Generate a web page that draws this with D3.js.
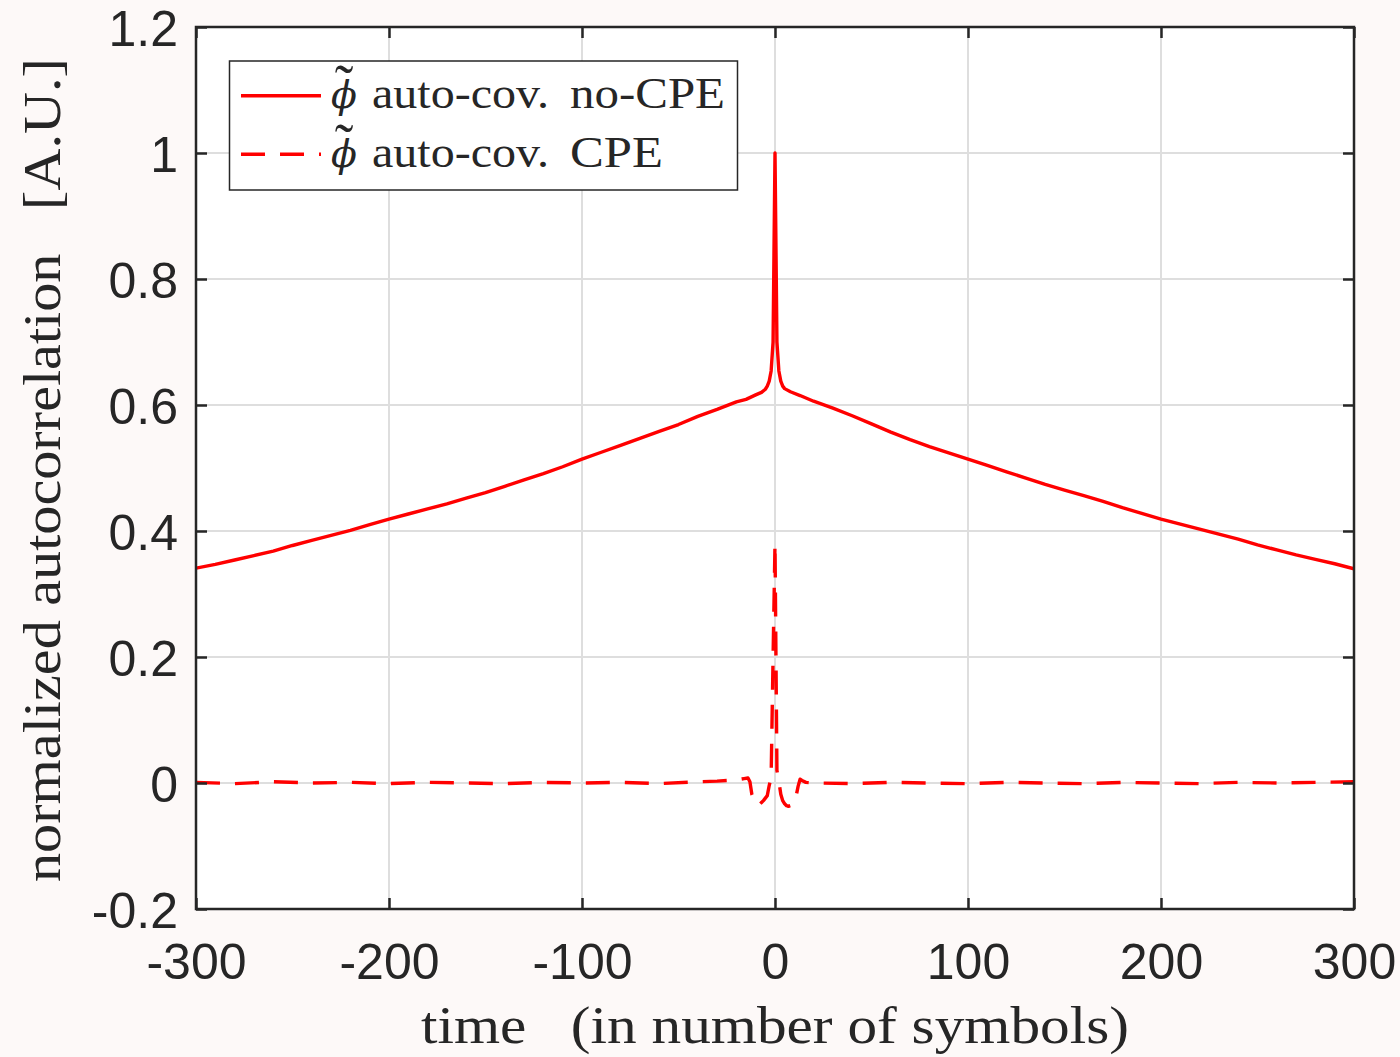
<!DOCTYPE html>
<html>
<head>
<meta charset="utf-8">
<script src="https://cdn.jsdelivr.net/npm/d3@7"></script>
<style>
  body { margin: 0; background: #fdf9f8; }
  svg { display: block; }
  .tick text { font-family: "Liberation Sans", Arial, sans-serif; font-size: 50px; fill: #262626; }
  .serif { font-family: "Liberation Serif", "Times New Roman", serif; fill: #262626; }
</style>
</head>
<body>
<svg width="1400" height="1057"></svg>
<script>
// lag (symbols) and normalized autocorrelation
var noCpeLag = [-300, -290, -280, -270, -260, -250, -240, -230, -220, -210, -200, -190, -180, -170, -160,
  -150, -140, -130, -120, -110, -100, -90, -80, -70, -60, -50, -40, -30, -20, -15, -10, -7, -5, -4, -3,
  -2, -1, 0, 1, 2, 3, 4, 5, 8, 13, 20, 30, 40, 50, 60, 70, 80, 90, 100, 110, 120, 130, 140, 150, 160,
  170, 180, 190, 200, 210, 220, 230, 240, 250, 260, 270, 280, 290, 300];
var noCpeVal = [0.341, 0.347, 0.354, 0.361, 0.368, 0.377, 0.385, 0.393, 0.401, 0.410, 0.419, 0.427, 0.435,
  0.443, 0.452, 0.461, 0.471, 0.481, 0.491, 0.502, 0.514, 0.525, 0.536, 0.547, 0.558, 0.569, 0.582, 0.593,
  0.605, 0.609, 0.616, 0.620, 0.625, 0.630, 0.638, 0.654, 0.700, 1.0, 0.700, 0.654, 0.638, 0.630, 0.626,
  0.621, 0.615, 0.606, 0.595, 0.583, 0.570, 0.557, 0.545, 0.534, 0.524, 0.514, 0.504, 0.494, 0.484,
  0.474, 0.465, 0.456, 0.447, 0.437, 0.428, 0.419, 0.411, 0.403, 0.395, 0.387, 0.378, 0.370, 0.362,
  0.355, 0.348, 0.340];

var cpeLag = [-300, -280, -260, -240, -220, -200, -180, -160, -140, -120, -100, -80, -60, -40, -30, -20,
  -16, -14, -13, -12, -11, -10, -9, -8, -7, -6, -5, -4, -3, -2, -1, 0, 1, 2, 3, 4, 5, 6, 7, 8, 9, 10,
  11, 12, 13, 14, 16, 20, 40, 60, 80, 100, 120, 140, 160, 180, 200, 220, 240, 260, 280, 300];
var cpeVal = [0.001, -0.001, 0.002, 0.000, 0.001, -0.001, 0.001, 0.000, -0.001, 0.001, 0.000, 0.001,
  -0.001, 0.002, 0.003, 0.005, 0.007, 0.008, 0.002, -0.018, -0.028, -0.032, -0.035, -0.034, -0.031,
  -0.028, -0.024, -0.020, -0.004, 0.010, 0.200, 0.380, 0.020, 0.003, -0.018, -0.028, -0.033, -0.036,
  -0.037, -0.036, -0.035, -0.032, -0.020, -0.005, 0.006, 0.004, 0.001, 0.000, -0.001, 0.001, 0.000,
  -0.001, 0.001, 0.000, -0.001, 0.001, 0.000, -0.001, 0.001, 0.000, 0.001, 0.002];

var xTicks = [-300, -200, -100, 0, 100, 200, 300];
var xTickLabels = ['-300', '-200', '-100', '0', '100', '200', '300'];
var yTicks = [-0.2, 0, 0.2, 0.4, 0.6, 0.8, 1, 1.2];
var yTickLabels = ['-0.2', '0', '0.2', '0.4', '0.6', '0.8', '1', '1.2'];

var svg = d3.select('svg');
var margin = {top: 27, right: 46, bottom: 148, left: 196};
var width = svg.attr('width') - margin.left - margin.right;
var height = svg.attr('height') - margin.top - margin.bottom;
var axisColor = '#262626';

var x = d3.scaleLinear().domain([-300, 300]).range([0, width]);
var y = d3.scaleLinear().domain([-0.2, 1.2]).range([height, 0]);

var g = svg
  .append('g')
  .attr('transform', 'translate(' + margin.left + ',' + margin.top + ')');

g.append('rect')
  .attr('width', width)
  .attr('height', height)
  .attr('fill', '#fff');

// grid
g.append('g')
  .selectAll('line')
  .data(xTicks.slice(1, -1))
  .enter()
  .append('line')
  .attr('x1', d => x(d)).attr('x2', d => x(d))
  .attr('y1', 0).attr('y2', height)
  .attr('stroke', '#dedede').attr('stroke-width', 2);
g.append('g')
  .selectAll('line')
  .data(yTicks.slice(1, -1))
  .enter()
  .append('line')
  .attr('y1', d => y(d)).attr('y2', d => y(d))
  .attr('x1', 0).attr('x2', width)
  .attr('stroke', '#dedede').attr('stroke-width', 2);

g.append('defs')
  .append('clipPath')
  .attr('id', 'clip')
  .append('rect')
  .attr('width', width)
  .attr('height', height);

var line = d3
  .line()
  .x(function(d) { return x(d[0]); })
  .y(function(d) { return y(d[1]); });

var plot = g.append('g').attr('clip-path', 'url(#clip)');
plot.append('path')
  .datum(d3.zip(noCpeLag, noCpeVal))
  .attr('d', line)
  .attr('fill', 'none')
  .attr('stroke', '#ff0000')
  .attr('stroke-width', 3.4)
  .attr('stroke-linejoin', 'round');
plot.append('path')
  .datum(d3.zip(cpeLag, cpeVal))
  .attr('d', line)
  .attr('fill', 'none')
  .attr('stroke', '#ff0000')
  .attr('stroke-width', 3.4)
  .attr('stroke-dasharray', '24,15')
  .attr('stroke-linejoin', 'round');

// axes, ticks pointing inwards on all four sides
function styleAxis(sel) {
  sel.select('.domain').remove();
  sel.selectAll('.tick line').attr('stroke', axisColor).attr('stroke-width', 2.5);
}
g.append('g')
  .attr('transform', 'translate(0,' + height + ')')
  .call(d3.axisBottom(x).tickValues(xTicks).tickSizeInner(-11).tickSizeOuter(0).tickPadding(34)
    .tickFormat((d, i) => xTickLabels[i]))
  .call(styleAxis);
g.append('g')
  .call(d3.axisTop(x).tickValues(xTicks).tickSizeInner(-11).tickSizeOuter(0).tickFormat(''))
  .call(styleAxis);
g.append('g')
  .call(d3.axisLeft(y).tickValues(yTicks).tickSizeInner(-11).tickSizeOuter(0).tickPadding(18)
    .tickFormat((d, i) => yTickLabels[i]))
  .call(styleAxis)
  .selectAll('.tick text').attr('dy', '0.36em');
g.append('g')
  .attr('transform', 'translate(' + width + ',0)')
  .call(d3.axisRight(y).tickValues(yTicks).tickSizeInner(-11).tickSizeOuter(0).tickFormat(''))
  .call(styleAxis);
g.selectAll('.tick text').attr('font-family', null).attr('font-size', null).attr('fill', null);

g.append('rect')
  .attr('width', width)
  .attr('height', height)
  .attr('fill', 'none')
  .attr('stroke', axisColor)
  .attr('stroke-width', 2.5);

// axis labels
svg.append('text')
  .attr('class', 'serif')
  .attr('x', margin.left + width / 2)
  .attr('y', 1043)
  .attr('text-anchor', 'middle')
  .attr('font-size', 53)
  .attr('textLength', 708)
  .attr('lengthAdjust', 'spacingAndGlyphs')
  .style('white-space', 'pre')
  .text('time   (in number of symbols)');
svg.append('text')
  .attr('class', 'serif')
  .attr('transform', 'translate(60,470) rotate(-90)')
  .attr('text-anchor', 'middle')
  .attr('font-size', 53)
  .attr('textLength', 824)
  .attr('lengthAdjust', 'spacingAndGlyphs')
  .style('white-space', 'pre')
  .text('normalized autocorrelation   [A.U.]');

// legend
var legend = svg.append('g');
legend.append('rect')
  .attr('x', 229.5).attr('y', 61)
  .attr('width', 508).attr('height', 129)
  .attr('fill', '#fff')
  .attr('stroke', axisColor)
  .attr('stroke-width', 1.5);
var entries = [
  {label: 'no-CPE', w: 155, dash: null, y: 95.7},
  {label: 'CPE', w: 93, dash: '24,15', y: 154.3}
];
entries.forEach(function(e) {
  legend.append('line')
    .attr('x1', 241).attr('x2', 321)
    .attr('y1', e.y).attr('y2', e.y)
    .attr('stroke', '#ff0000')
    .attr('stroke-width', 3.4)
    .attr('stroke-dasharray', e.dash);
  var base = e.y + 12.6;
  var sym = legend.append('text')
    .attr('x', 331).attr('y', base)
    .attr('fill', '#262626');
  sym.append('tspan')
    .attr('font-family', '"DejaVu Serif", serif')
    .attr('font-style', 'italic')
    .attr('font-size', 38)
    .text('\u03D5');
  sym.append('tspan')
    .attr('x', 344).attr('dy', -4)
    .attr('text-anchor', 'middle')
    .attr('font-family', '"Liberation Serif", serif')
    .attr('font-size', 56)
    .text('\u02DC');
  legend.append('text')
    .attr('class', 'serif')
    .attr('x', 372).attr('y', base)
    .attr('font-size', 44)
    .attr('textLength', 177)
    .attr('lengthAdjust', 'spacingAndGlyphs')
    .text('auto-cov.');
  legend.append('text')
    .attr('class', 'serif')
    .attr('x', 570).attr('y', base)
    .attr('font-size', 44)
    .attr('textLength', e.w)
    .attr('lengthAdjust', 'spacingAndGlyphs')
    .text(e.label);
});
</script>
</body>
</html>
